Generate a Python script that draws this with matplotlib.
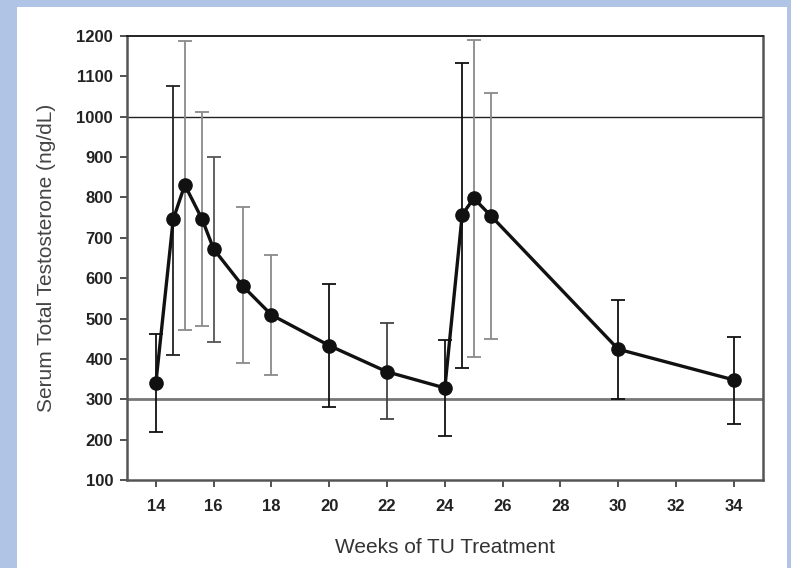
import numpy as np
import matplotlib.pyplot as plt
from matplotlib.patches import Rectangle

plt.rcParams['font.family'] = ['Liberation Sans', 'DejaVu Sans']

# weeks of treatment and mean serum T with error bar ends
weeks = [14, 14.6, 15, 15.6, 16, 17, 18, 20, 22, 24, 24.6, 25, 25.6, 30, 34]
mean_t = [341, 746, 831, 746, 672, 581, 509, 433, 368, 328, 757, 798, 754, 424, 348]
upper = [462, 1077, 1188, 1012, 901, 776, 657, 585, 490, 446, 1132, 1190, 1060, 545, 454]
lower = [220, 410, 471, 481, 442, 389, 360, 281, 250, 210, 377, 405, 449, 300, 239]
bar_colors = ['#111111', '#222222', '#8a8a8a', '#8a8a8a', '#555555', '#8a8a8a', '#8a8a8a',
              '#111111', '#444444', '#111111', '#111111', '#8a8a8a', '#8a8a8a', '#111111', '#111111']

ref_low = 300
ref_high = 1000
xticks = list(range(14, 35, 2))
yticks = list(range(100, 1201, 100))

fig = plt.figure(figsize=(7.91, 5.68), dpi=100)
fig.patch.set_facecolor('#b0c5e6')
fig.patches.append(Rectangle((17 / 791, 0), 770 / 791, 1 - 7 / 568,
                             transform=fig.transFigure, facecolor='white',
                             edgecolor='none', zorder=-10))

ax = fig.add_axes([127 / 791, 1 - 480 / 568, 635.7 / 791, 444 / 568])

ax.axhline(ref_high, color='#222222', lw=1.0, zorder=1)
ax.axhline(ref_low, color='#777777', lw=2.0, zorder=1)

for x, y, hi, lo, c in zip(weeks, mean_t, upper, lower, bar_colors):
    ax.errorbar([x], [y], yerr=[[y - lo], [hi - y]], fmt='none', ecolor=c,
                elinewidth=1.3, capsize=5, capthick=1.3, zorder=2)

ax.plot(weeks, mean_t, color='#111111', lw=2.4, marker='o', ms=9.5,
        markerfacecolor='#111111', markeredgecolor='#111111', zorder=3)

ax.set_xlim(13, 35)
ax.set_ylim(100, 1200)
ax.set_xticks(xticks)
ax.set_yticks(yticks)
ax.tick_params(axis='both', direction='out', length=5, width=1.2, color='#333333',
               labelsize=12)
ax.tick_params(axis='x', pad=9)
ax.tick_params(axis='y', pad=5)
for lab in ax.get_xticklabels() + ax.get_yticklabels():
    lab.set_fontweight('bold')
    lab.set_color('#222222')

for side in ['left', 'bottom', 'right']:
    ax.spines[side].set_color('#555555')
    ax.spines[side].set_linewidth(1.8)
ax.spines['top'].set_color('#222222')
ax.spines['top'].set_linewidth(1.4)

ax.set_xlabel('Weeks of TU Treatment', fontsize=15, color='#333333', labelpad=17)
ax.set_ylabel('Serum Total Testosterone (ng/dL)', fontsize=15, color='#444444', labelpad=15)

fig.savefig('out.png', dpi=100, facecolor=fig.get_facecolor())
